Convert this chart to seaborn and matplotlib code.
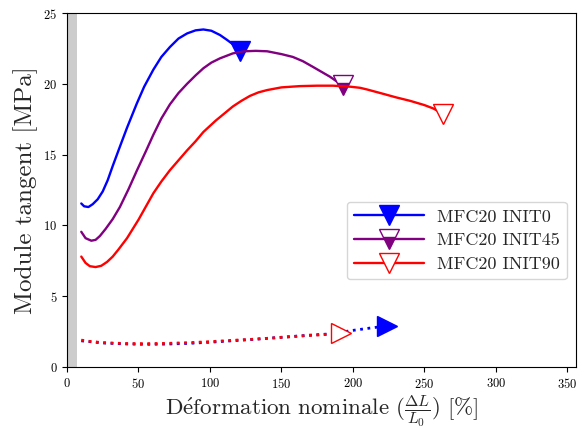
import matplotlib
matplotlib.use("Agg")
import matplotlib.pyplot as plt
import seaborn as sns
import numpy as np

# curve data
init0_x = [10, 12, 15, 18, 21.5, 25, 28.5, 32, 37, 42, 48.8, 54, 60.4, 66, 72, 78, 84, 90, 95.4, 101, 107, 112, 116, 121]
init0_y = [11.55, 11.35, 11.3, 11.5, 11.85, 12.4, 13.2, 14.2, 15.56, 16.9, 18.6, 19.8, 21.0, 21.9, 22.6, 23.2, 23.56, 23.78, 23.84, 23.75, 23.45, 23.1, 22.8, 22.3]

init45_x = [10, 13, 17, 20, 23, 27, 32, 37, 43, 49, 55, 60.4, 66, 72, 78, 84, 90, 95.4, 101, 107, 116, 124, 132, 140, 150, 158, 165, 172, 178, 184, 189, 193]
init45_y = [9.55, 9.1, 8.92, 8.98, 9.25, 9.75, 10.45, 11.3, 12.55, 13.9, 15.2, 16.4, 17.55, 18.55, 19.35, 20.0, 20.6, 21.1, 21.5, 21.8, 22.15, 22.3, 22.33, 22.3, 22.1, 21.9, 21.6, 21.2, 20.85, 20.5, 20.15, 19.9]

init90_x = [10, 13, 16, 20, 24, 28, 32, 36, 42, 50, 55, 60.4, 66, 72, 78, 84, 90, 95.4, 104, 110, 116, 122, 128, 134, 140, 150, 163, 175, 186, 198, 205, 210, 221, 230, 240, 250, 256, 263]
init90_y = [7.8, 7.35, 7.12, 7.06, 7.15, 7.42, 7.8, 8.3, 9.1, 10.4, 11.3, 12.27, 13.1, 13.9, 14.6, 15.3, 15.95, 16.6, 17.4, 17.9, 18.4, 18.8, 19.15, 19.4, 19.56, 19.75, 19.84, 19.87, 19.87, 19.8, 19.72, 19.6, 19.3, 19.05, 18.8, 18.5, 18.27, 17.9]

# lower dotted curves
low0_x = [10, 15, 25, 40, 55, 70, 85, 100, 115, 130, 150, 170, 186, 198, 212, 224]
low0_y = [1.85, 1.8, 1.7, 1.63, 1.6, 1.62, 1.67, 1.75, 1.85, 1.95, 2.1, 2.25, 2.35, 2.56, 2.75, 2.9]
low90_x = [10, 15, 25, 40, 55, 70, 85, 100, 115, 130, 147, 165, 182, 192]
low90_y = [1.9, 1.82, 1.72, 1.66, 1.65, 1.67, 1.72, 1.79, 1.88, 1.96, 2.07, 2.2, 2.3, 2.37]

labels = ["MFC20 INIT0", "MFC20 INIT45", "MFC20 INIT90"]
x_ticks = [0, 50, 100, 150, 200, 250, 300, 350]
y_ticks = [0, 5, 10, 15, 20, 25]

sns.set_theme(style="ticks")
plt.rcParams.update({
    'font.family': 'serif',
    'font.serif': ['cmr10'],
    'mathtext.fontset': 'cm',
    'axes.formatter.use_mathtext': True,
    'axes.unicode_minus': False,
    'axes.edgecolor': 'black',
    'axes.linewidth': 0.8,
    'xtick.color': 'black',
    'ytick.color': 'black',
    'xtick.major.size': 3.5,
    'ytick.major.size': 3.5,
    'xtick.major.width': 0.8,
    'ytick.major.width': 0.8,
    'xtick.labelsize': 9,
    'ytick.labelsize': 9,
})

fig = plt.figure(figsize=(5.85, 4.28), dpi=100)
ax = fig.add_axes([0.1145, 0.1425, 0.870, 0.827])

# grey band near the origin
ax.axvspan(0, 7, color='#cccccc', lw=0, zorder=0)

ms = 14
sns.lineplot(x=init0_x, y=init0_y, ax=ax, color='blue', lw=1.7, label=labels[0],
             marker='v', markevery=[-1], markersize=ms, markerfacecolor='blue',
             markeredgecolor='blue', markeredgewidth=1)
sns.lineplot(x=init45_x, y=init45_y, ax=ax, color='purple', lw=1.7, label=labels[1],
             marker='v', markevery=[-1], markersize=ms, markerfacecolor='purple',
             fillstyle='bottom', markerfacecoloralt='white',
             markeredgecolor='purple', markeredgewidth=1)
sns.lineplot(x=init90_x, y=init90_y, ax=ax, color='red', lw=1.7, label=labels[2],
             marker='v', markevery=[-1], markersize=ms, markerfacecolor='white',
             markeredgecolor='red', markeredgewidth=1)

sns.lineplot(x=low0_x, y=low0_y, ax=ax, color='blue', lw=2, linestyle=':',
             marker='>', markevery=[-1], markersize=ms, markerfacecolor='blue',
             markeredgecolor='blue', markeredgewidth=1)
sns.lineplot(x=low90_x, y=low90_y, ax=ax, color='red', lw=2, linestyle=':',
             marker='>', markevery=[-1], markersize=ms, markerfacecolor='white',
             markeredgecolor='red', markeredgewidth=1)

ax.set_xlim(0, 356)
ax.set_ylim(0, 25)
ax.set_xticks(x_ticks)
ax.set_yticks(y_ticks)

ax.set_xlabel(r'$\mathrm{D\acute{e}formation\ nominale}\ (\frac{\Delta L}{L_0})\ [\%]$',
              fontsize=16.6, labelpad=2)
ax.set_ylabel('Module tangent [MPa]', fontsize=18)

ax.legend(loc='center right', bbox_to_anchor=(1, 0.357), fontsize=13,
          handlelength=3.9, handletextpad=0.7, labelspacing=0.45, borderpad=0.4,
          framealpha=0.8, edgecolor='0.8')

fig.savefig('out.png', dpi=100)
